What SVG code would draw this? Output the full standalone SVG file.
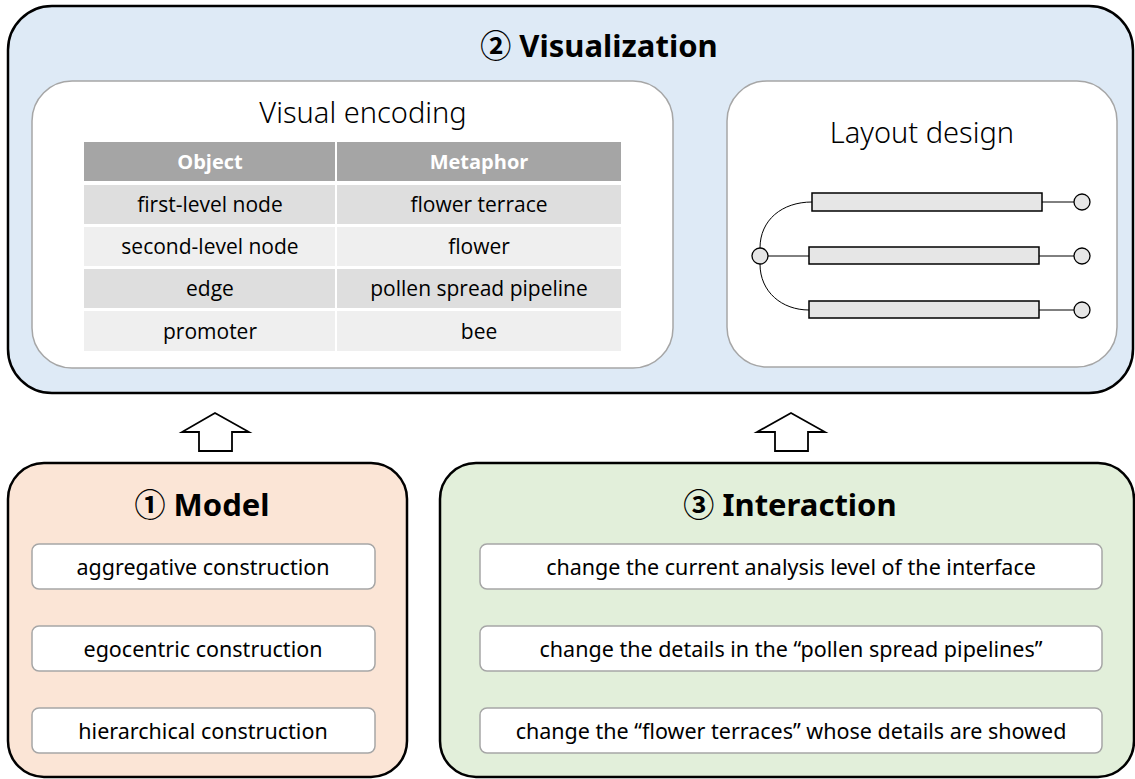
<svg xmlns="http://www.w3.org/2000/svg" width="1135" height="779" viewBox="0 0 1135 779">
<style>
.outer{stroke:#000;stroke-width:2.5}
.inner{fill:#fff;stroke:#A6A6A6;stroke-width:1.5}
.title{font-family:"Noto Sans","Noto Sans CJK SC",sans-serif;font-weight:bold;font-size:31px;text-anchor:middle;fill:#000}
.sub{font-family:"Noto Sans","Noto Sans CJK SC",sans-serif;font-weight:300;font-size:29px;text-anchor:middle;fill:#000}
.item{font-family:"Noto Sans","Noto Sans CJK SC",sans-serif;font-size:21.5px;text-anchor:middle;fill:#000}
.th{font-family:"Open Sans","Noto Sans",sans-serif;font-weight:bold;font-size:20px;text-anchor:middle;fill:#fff}
.td{font-family:"Open Sans","Noto Sans",sans-serif;font-size:21px;text-anchor:middle;fill:#000}
.bar{fill:#E6E6E6;stroke:#000;stroke-width:1.5}
.dot{fill:#E6E6E6;stroke:#000;stroke-width:1.3}
.ln{fill:none;stroke:#000;stroke-width:1}
.arrow{fill:#fff;stroke:#000;stroke-width:1.8}
</style>

<g id="visualization">
<rect class="outer" x="8" y="6" width="1125" height="387" rx="44" fill="#DEEAF6"/>
<text class="title" x="599" y="57">② Visualization</text>
</g>

<g id="visual-encoding">
<rect class="inner" x="32" y="81" width="641" height="287" rx="40"/>
<text class="sub" x="363" y="123">Visual encoding</text>
<rect x="84" y="142" width="251" height="39" fill="#A5A5A5"/>
<rect x="337" y="142" width="284" height="39" fill="#A5A5A5"/>
<rect x="84" y="185" width="251" height="39" fill="#DEDEDE"/>
<rect x="337" y="185" width="284" height="39" fill="#DEDEDE"/>
<rect x="84" y="227" width="251" height="39" fill="#EFEFEF"/>
<rect x="337" y="227" width="284" height="39" fill="#EFEFEF"/>
<rect x="84" y="269" width="251" height="39" fill="#DEDEDE"/>
<rect x="337" y="269" width="284" height="39" fill="#DEDEDE"/>
<rect x="84" y="311" width="251" height="40" fill="#EFEFEF"/>
<rect x="337" y="311" width="284" height="40" fill="#EFEFEF"/>
<text class="th" x="210" y="169">Object</text>
<text class="th" x="479" y="169">Metaphor</text>
<text class="td" x="210" y="212">first-level node</text>
<text class="td" x="479" y="212">flower terrace</text>
<text class="td" x="210" y="254">second-level node</text>
<text class="td" x="479" y="254">flower</text>
<text class="td" x="210" y="296">edge</text>
<text class="td" x="479" y="296">pollen spread pipeline</text>
<text class="td" x="210" y="339">promoter</text>
<text class="td" x="479" y="339">bee</text>
</g>

<g id="layout-design">
<rect class="inner" x="727" y="81" width="390" height="286" rx="40"/>
<text class="sub" x="922" y="143">Layout design</text>
<path class="ln" d="M760 248 C760 220 782 202 812 202"/>
<path class="ln" d="M760 264 C760 292 782 310 809 310"/>
<line class="ln" x1="768" y1="256" x2="809" y2="256"/>
<line class="ln" x1="1042" y1="202" x2="1074" y2="202"/>
<line class="ln" x1="1039" y1="256" x2="1074" y2="256"/>
<line class="ln" x1="1039" y1="310" x2="1074" y2="310"/>
<rect class="bar" x="812" y="193" width="230" height="18"/>
<rect class="bar" x="809" y="247" width="230" height="17"/>
<rect class="bar" x="809" y="301" width="230" height="17"/>
<circle class="dot" cx="760" cy="256" r="8"/>
<circle class="dot" cx="1082" cy="202" r="8"/>
<circle class="dot" cx="1082" cy="256" r="8"/>
<circle class="dot" cx="1082" cy="310" r="8"/>
</g>

<g id="connectors">
<path class="arrow" d="M215 413 L249 432 L232 432 L232 451 L199 451 L199 432 L182 432 Z"/>
<path class="arrow" d="M791 413 L825 432 L808 432 L808 451 L775 451 L775 432 L757 432 Z"/>
</g>

<g id="model">
<rect class="outer" x="8" y="463" width="399" height="314" rx="36" fill="#FBE5D6"/>
<text class="title" x="202" y="516">① Model</text>
<rect class="inner" x="32" y="544" width="343" height="45" rx="7"/>
<text class="item" x="203" y="575">aggregative construction</text>
<rect class="inner" x="32" y="626" width="343" height="45" rx="7"/>
<text class="item" x="203" y="657">egocentric construction</text>
<rect class="inner" x="32" y="708" width="343" height="45" rx="7"/>
<text class="item" x="203" y="739">hierarchical construction</text>
</g>

<g id="interaction">
<rect class="outer" x="440" y="463" width="694" height="314" rx="36" fill="#E2EFDA"/>
<text class="title" x="790" y="516">③ Interaction</text>
<rect class="inner" x="480" y="544" width="622" height="45" rx="7"/>
<text class="item" x="791" y="575">change the current analysis level of the interface</text>
<rect class="inner" x="480" y="626" width="622" height="45" rx="7"/>
<text class="item" x="791" y="657">change the details in the “pollen spread pipelines”</text>
<rect class="inner" x="480" y="708" width="622" height="45" rx="7"/>
<text class="item" x="791" y="739">change the “flower terraces” whose details are showed</text>
</g>
</svg>
